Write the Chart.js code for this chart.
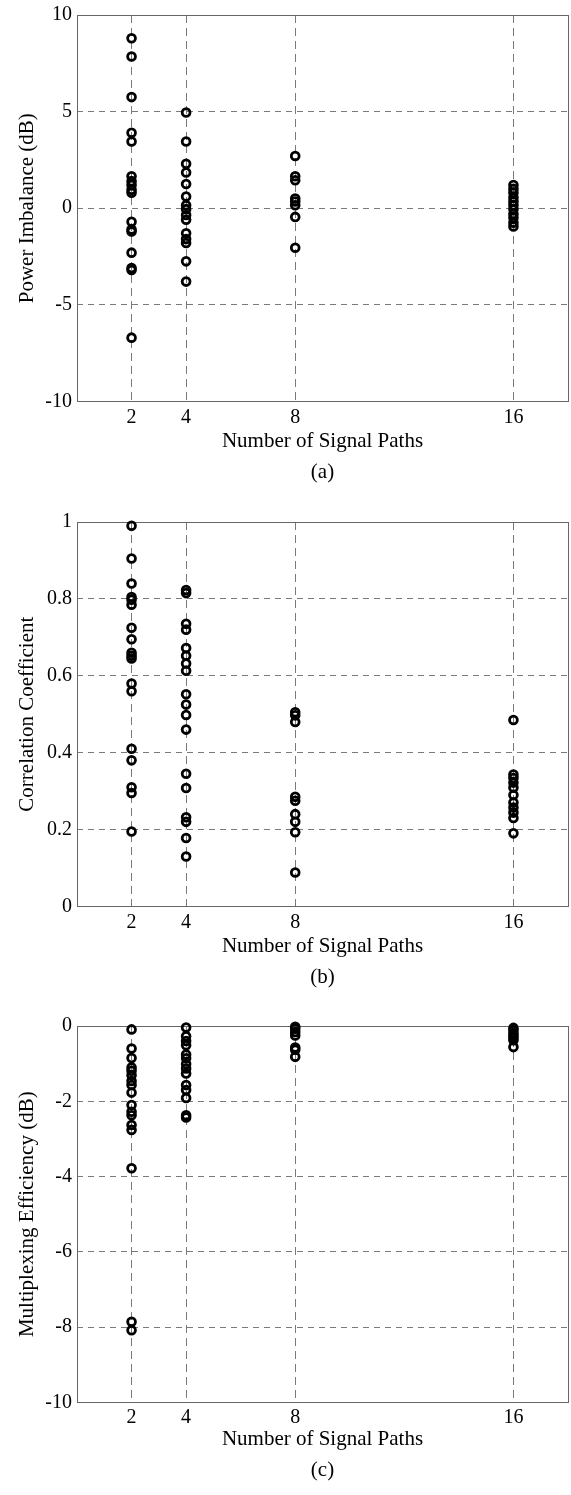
<!DOCTYPE html>
<html>
<head>
<meta charset="utf-8">
<script src="https://cdn.jsdelivr.net/npm/chart.js@4/dist/chart.umd.min.js"></script>
<style>
  html, body { margin: 0; padding: 0; background: #fff; }
  body { width: 571px; height: 1495px; position: relative; overflow: hidden; }
  .panel { position: absolute; left: 0; width: 571px; }
</style>
</head>
<body>
<div class="panel" id="pa"><canvas id="ca"></canvas></div>
<div class="panel" id="pb"><canvas id="cb"></canvas></div>
<div class="panel" id="pc"><canvas id="cc"></canvas></div>
<script>
// number of signal paths (x positions)
const paths = [2, 4, 8, 16]

// (a) power imbalance, dB
const imbalance2 = [8.8, 7.85, 5.75, 3.9, 3.45, 1.65, 1.4, 1.2, 0.95, 0.8, -0.7, -1.1, -1.2, -2.3, -3.1, -3.2, -6.7]
const imbalance4 = [4.95, 3.45, 2.3, 1.85, 1.25, 0.6, 0.15, -0.05, -0.35, -0.6, -1.3, -1.6, -1.8, -2.75, -3.8]
const imbalance8 = [2.7, 1.65, 1.45, 0.5, 0.35, 0.15, -0.45, -2.05]
const imbalance16 = [1.2, 1.0, 0.8, 0.55, 0.35, 0.15, -0.05, -0.3, -0.5, -0.75, -0.95]

// (b) correlation coefficient
const correlation2 = [0.99, 0.905, 0.84, 0.805, 0.798, 0.785, 0.725, 0.695, 0.66, 0.652, 0.645, 0.58, 0.56, 0.41, 0.38, 0.31, 0.295, 0.195]
const correlation4 = [0.823, 0.815, 0.735, 0.72, 0.672, 0.652, 0.632, 0.613, 0.552, 0.525, 0.498, 0.46, 0.345, 0.308, 0.232, 0.22, 0.178, 0.13]
const correlation8 = [0.505, 0.497, 0.48, 0.285, 0.275, 0.24, 0.22, 0.193, 0.088]
const correlation16 = [0.485, 0.343, 0.334, 0.322, 0.309, 0.29, 0.27, 0.257, 0.244, 0.23, 0.19]

// (c) multiplexing efficiency, dB
const efficiency2 = [-0.09, -0.6, -0.85, -1.1, -1.19, -1.31, -1.46, -1.57, -1.77, -2.1, -2.28, -2.37, -2.63, -2.76, -3.78, -7.86, -8.08]
const efficiency4 = [-0.04, -0.27, -0.4, -0.51, -0.76, -0.86, -1.01, -1.13, -1.26, -1.57, -1.7, -1.91, -2.37, -2.43]
const efficiency8 = [-0.02, -0.07, -0.16, -0.25, -0.57, -0.63, -0.82]
const efficiency16 = [-0.05, -0.11, -0.19, -0.25, -0.31, -0.38, -0.56]

const xTitle = 'Number of Signal Paths'
const FONT = "'Liberation Serif', 'Times New Roman', serif"
const GRID = '#7a7a7a'

Chart.defaults.font.family = FONT
Chart.defaults.font.size = 20
Chart.defaults.color = '#000'

const align = v => Math.round(v - 0.5) + 0.5

// plain box round the plot area, under the markers
const frame = {
  id: 'frame',
  beforeDatasetsDraw(chart) {
    const { ctx, chartArea: a } = chart
    const l = align(a.left), r = align(a.right), t = align(a.top), b = align(a.bottom)
    ctx.save()
    ctx.strokeStyle = '#666'
    ctx.lineWidth = 1
    ctx.setLineDash([])
    ctx.strokeRect(l, t, r - l, b - t)
    ctx.restore()
  }
}

function makePanel(boxId, canvasId, p) {
  const top = p.plotTop - 15
  const box = document.getElementById(boxId)
  box.style.top = top + 'px'
  box.style.height = (p.capY + 18 - top) + 'px'

  const datasets = p.series.map((values, i) => ({
    data: values.map(v => ({ x: paths[i], y: v })),
    pointStyle: 'circle',
    pointRadius: 3.9,
    pointBorderWidth: 2.8,
    pointBorderColor: '#000',
    pointBackgroundColor: 'rgba(0,0,0,0)',
    showLine: false,
    clip: false
  }))

  return new Chart(document.getElementById(canvasId), {
    type: 'scatter',
    data: { datasets },
    options: {
      responsive: true,
      maintainAspectRatio: false,
      animation: false,
      layout: { autoPadding: false, padding: { top: 15, right: 3, bottom: 0, left: 0 } },
      plugins: {
        legend: { display: false },
        tooltip: { enabled: false },
        title: {
          display: true,
          position: 'bottom',
          fullSize: false,
          text: p.caption,
          color: '#000',
          font: { size: 21, weight: 'normal', lineHeight: 1.2 },
          padding: { top: 0, bottom: 5.4 }
        }
      },
      scales: {
        x: {
          type: 'linear',
          min: 0,
          max: 18,
          afterBuildTicks: s => { s.ticks = paths.map(v => ({ value: v })) },
          afterFit: s => {
            s.height = p.capY - 12 - p.plotBottom
            s.paddingLeft = 0
            s.paddingRight = 0
          },
          grid: { color: GRID, lineWidth: 1, drawTicks: false },
          border: { display: false, dash: [8, 5] },
          ticks: { padding: p.tickPad, color: '#000', font: { size: 20 } },
          title: { display: true, text: xTitle, color: '#000', font: { size: 21 }, padding: { top: 0, bottom: p.capY - 24.6 - p.xTitleY } }
        },
        y: {
          min: p.yMin,
          max: p.yMax,
          afterFit: s => {
            s.width = 77
            s.paddingTop = 0
            s.paddingBottom = 0
          },
          grid: { color: GRID, lineWidth: 1, drawTicks: false },
          border: { display: false, dash: [6, 5] },
          ticks: { stepSize: p.yStep, padding: 5, color: '#000', font: { size: 20 }, callback: v => String(+v.toFixed(2)) },
          title: { display: true, text: p.yTitle, color: '#000', font: { size: 21 }, padding: { top: 14.5, bottom: 0 } }
        }
      }
    },
    plugins: [frame]
  })
}

makePanel('pa', 'ca', {
  plotTop: 15, plotBottom: 402, xTitleY: 442, capY: 472, tickPad: 4.3,
  yMin: -10, yMax: 10, yStep: 5, yTitle: 'Power Imbalance (dB)', caption: '(a)',
  series: [imbalance2, imbalance4, imbalance8, imbalance16]
})

makePanel('pb', 'cb', {
  plotTop: 522, plotBottom: 907, xTitleY: 947, capY: 977, tickPad: 4.3,
  yMin: 0, yMax: 1, yStep: 0.2, yTitle: 'Correlation Coefficient', caption: '(b)',
  series: [correlation2, correlation4, correlation8, correlation16]
})

makePanel('pc', 'cc', {
  plotTop: 1026, plotBottom: 1403, xTitleY: 1440, capY: 1470, tickPad: 3,
  yMin: -10, yMax: 0, yStep: 2, yTitle: 'Multiplexing Efficiency (dB)', caption: '(c)',
  series: [efficiency2, efficiency4, efficiency8, efficiency16]
})
</script>
</body>
</html>
